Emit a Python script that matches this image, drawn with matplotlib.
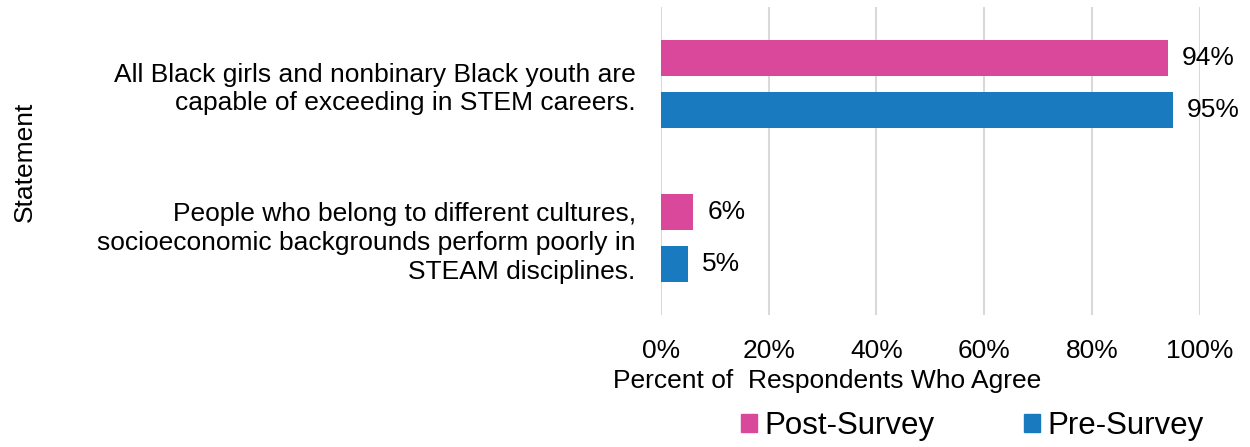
import matplotlib.pyplot as plt
from matplotlib import rc
from matplotlib.patches import Patch

rc('font', **{'family': 'sans-serif', 'sans-serif': ['Liberation Sans', 'DejaVu Sans']})

statements = ["People who belong to different cultures,\nsocioeconomic backgrounds perform poorly in\nSTEAM disciplines.",
              "All Black girls and nonbinary Black youth are\ncapable of exceeding in STEM careers."]
post_survey = [6, 94]
pre_survey = [5, 95]
ticks = [0, 20, 40, 60, 80, 100]

pink = '#D9489A'
blue = '#1A7ABF'
fs = 19

fig = plt.figure(figsize=(12.5, 4.47), dpi=100)
ax = fig.add_axes([0.5286, 0.295, 0.4314, 0.689])

pos = list(range(len(statements)))
off = 0.17
h = 0.234
post_bars = ax.barh([p + off for p in pos], post_survey, height=h, color=pink)
pre_bars = ax.barh([p - off for p in pos], pre_survey, height=h, color=blue)

# value labels just right of each bar
for bars, vals in ((post_bars, post_survey), (pre_bars, pre_survey)):
    for b, v in zip(bars, vals):
        ax.text(v + 2.6, b.get_y() + b.get_height() / 2, "%d%%" % v,
                va='center', ha='left', fontsize=fs)

ax.set_xlim(0, 100)
ax.set_ylim(-0.5, 1.5)
ax.set_xticks(ticks)
ax.set_xticklabels(["%d%%" % t for t in ticks], fontsize=fs)
ax.set_yticks(pos)
ax.set_yticklabels(statements, fontsize=fs, ha='right', linespacing=1.25)
ax.tick_params(axis='both', length=0)
ax.tick_params(axis='x', pad=17)
ax.tick_params(axis='y', pad=18)
ax.grid(axis='x', color='#D9D9D9', linewidth=1.5)
ax.set_axisbelow(True)
for s in ax.spines.values():
    s.set_visible(False)

fig.text(0.662, 1 - 381 / 447, "Percent of  Respondents Who Agree", fontsize=fs,
         ha='center', va='center')
fig.text(0.02, 1 - 162 / 447, "Statement", fontsize=fs, rotation=90,
         ha='center', va='center')

handles = [Patch(color=pink, label='Post-Survey'), Patch(color=blue, label='Pre-Survey')]
fig.legend(handles=handles, loc='center', bbox_to_anchor=(0.778, 1 - 426 / 447), ncol=2,
           frameon=False, fontsize=22.5, handlelength=0.5, handleheight=0.5,
           handletextpad=0.26, columnspacing=2.85, borderpad=0)

plt.savefig('out.png')
